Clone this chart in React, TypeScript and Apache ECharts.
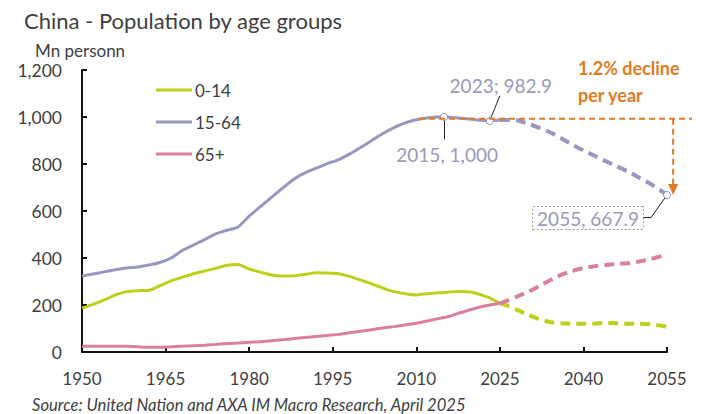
import React, { useEffect, useRef } from "react";
import * as echarts from "echarts";

const histYears = [1950, 1952, 1954, 1956, 1958, 1960, 1962, 1964, 1966, 1968, 1970, 1972, 1974, 1976, 1978, 1980, 1982, 1984, 1986, 1988, 1990, 1992, 1994, 1996, 1998, 2000, 2002, 2004, 2006, 2008, 2010, 2012, 2014, 2015, 2016, 2018, 2020, 2022, 2023, 2024, 2025];
const hist014 = [187, 203, 222, 243, 257, 261, 262, 282, 303, 318, 333, 345, 356, 369, 372, 353, 340, 328, 323, 324, 330, 337, 336, 333, 322, 306, 290, 272, 257, 248, 243, 248, 252, 253, 255, 257, 254, 240, 232, 220, 207];
const hist1564 = [323, 332, 341, 350, 357, 362, 370, 381, 400, 432, 455, 478, 503, 518, 532, 578, 618, 658, 697, 735, 762, 782, 802, 818, 842, 870, 900, 930, 955, 975, 988, 996, 1000, 1000, 999, 995, 990, 985, 982.9, 985, 987];
const hist65 = [25, 25, 25, 25, 24, 22, 20, 20, 22, 25, 27, 29, 32, 36, 38, 41, 44, 48, 52, 57, 62, 66, 70, 75, 82, 88, 95, 102, 108, 115, 122, 132, 142, 147, 152, 168, 182, 195, 199, 203, 207];

const projYears = [2025, 2026, 2028, 2030, 2032, 2034, 2036, 2038, 2040, 2042, 2044, 2046, 2048, 2050, 2052, 2054, 2055];
const proj014 = [207, 200, 180, 160, 140, 127, 122, 120, 120, 121, 124, 122, 120, 120, 118, 112, 108];
const proj1564 = [987, 987, 986, 972, 955, 935, 910, 882, 858, 835, 812, 790, 768, 742, 716, 685, 667.9];
const proj65 = [207, 215, 235, 255, 280, 305, 328, 345, 357, 365, 370, 375, 378, 385, 395, 408, 413];

const groups = ["0-14", "15-64", "65+"];
const xTicks = [1950, 1965, 1980, 1995, 2010, 2025, 2040, 2055];
const yTicks = [0, 200, 400, 600, 800, 1000, 1200];

const C014 = "#bdd01c";
const C1564 = "#9897c0";
const C65 = "#d9809f";
const ORANGE = "#e07b24";
const NOTE = "#9a99b9";
const FONT = "Lato, 'Noto Sans', sans-serif";

const pairs = (xs: number[], ys: number[]) => xs.map((x, i) => [x, ys[i]]);

export default function App() {
  const ref = useRef<HTMLDivElement>(null);
  useEffect(() => {
    if (!ref.current) return;
    const chart = echarts.init(ref.current, null, { renderer: "svg" });
    const y2015 = hist1564[histYears.indexOf(2015)];
    const y2023 = hist1564[histYears.indexOf(2023)];
    const y2055 = proj1564[projYears.indexOf(2055)];
    const fmt = (v: number) => v.toLocaleString("en-US");
    const solid = (name: string, ys: number[], color: string) => ({
      name,
      type: "line",
      data: pairs(histYears, ys),
      showSymbol: false,
      smooth: 0.2,
      lineStyle: { color, width: 3 },
      itemStyle: { color },
      silent: true,
    });
    const dashed = (name: string, ys: number[], color: string) => ({
      name,
      type: "line",
      data: pairs(projYears, ys),
      showSymbol: false,
      smooth: 0.2,
      lineStyle: { color, width: 4, type: [10, 6] },
      itemStyle: { color },
      silent: true,
    });
    const leader = { color: "#222", width: 1, type: "solid" };
    const option: any = {
      animation: false,
      textStyle: { fontFamily: FONT },
      title: [
        { text: "China - Population by age groups", left: 19, top: 4, textStyle: { fontSize: 22, fontWeight: "normal", color: "#404040", fontFamily: FONT } },
        { text: "Mn personn", left: 30, top: 37, textStyle: { fontSize: 17, fontWeight: "normal", color: "#404040", fontFamily: FONT } },
        { text: "Source: United Nation and AXA IM Macro Research, April 2025", left: 27, top: 391, textStyle: { fontSize: 16.6, fontWeight: "normal", fontStyle: "italic", color: "#404040", fontFamily: FONT } },
      ],
      legend: {
        data: groups.map((g) => ({ name: g, icon: "rect" })),
        orient: "vertical",
        left: 156,
        top: 81,
        itemWidth: 36,
        itemHeight: 3,
        itemGap: 14,
        padding: 0,
        textStyle: { fontSize: 17, color: "#404040", lineHeight: 18, fontFamily: FONT, padding: [0, 0, 0, -2] },
        selectedMode: false,
      },
      grid: { left: 82, right: 35, top: 70, bottom: 62, containLabel: false },
      xAxis: {
        type: "value",
        min: xTicks[0],
        max: xTicks[xTicks.length - 1],
        interval: 15,
        axisLine: { lineStyle: { color: "#111", width: 2 } },
        axisTick: { inside: true, length: 5, lineStyle: { color: "#111", width: 2 } },
        axisLabel: { fontSize: 17, color: "#404040", margin: 18, formatter: (v: number) => String(v) },
        splitLine: { show: false },
      },
      yAxis: {
        type: "value",
        min: yTicks[0],
        max: yTicks[yTicks.length - 1],
        interval: 200,
        axisLine: { show: true, lineStyle: { color: "#111", width: 2 } },
        axisTick: { show: true, inside: true, length: 5, lineStyle: { color: "#111", width: 2 } },
        axisLabel: { fontSize: 17.5, color: "#404040", margin: 20, formatter: (v: number) => fmt(v) },
        splitLine: { show: false },
      },
      series: [
        solid(groups[0], hist014, C014),
        solid(groups[1], hist1564, C1564),
        solid(groups[2], hist65, C65),
        dashed("0-14 projection", proj014, C014),
        dashed("65+ projection", proj65, C65),
        {
          ...dashed("15-64 projection", proj1564, C1564),
          markLine: {
            silent: true,
            symbol: ["none", "none"],
            label: { show: false },
            data: [
              [{ coord: [2015, 995], lineStyle: leader }, { coord: [2015, 905] }],
              [{ coord: [2023.2, 986], lineStyle: leader }, { coord: [2025, 1090] }],
              [{ coord: [2055, y2055], lineStyle: leader }, { coord: [2052.2, 575] }],
              [{ coord: [2052.2, 575], lineStyle: leader }, { coord: [2050.6, 575] }],
            ],
          },
          markPoint: {
            silent: true,
            symbol: "circle",
            symbolSize: 7,
            itemStyle: { color: "#fff", borderColor: "#8f8fb5", borderWidth: 1 },
            label: { show: true, position: "inside", color: NOTE, fontSize: 19, fontFamily: FONT },
            data: [
              { coord: [2015, y2015], label: { formatter: `2015, ${fmt(y2015)}`, offset: [3, 37] } },
              { coord: [2023.2, y2023], label: { formatter: `2023; ${y2023}`, offset: [11, -36] } },
              {
                coord: [2055, y2055],
                label: {
                  formatter: `2055, ${y2055}`,
                  offset: [-79, 23],
                  borderColor: "#999",
                  borderWidth: 1,
                  borderType: [2, 2],
                  padding: [2, 4, 1, 4],
                  backgroundColor: "#fff",
                },
              },
            ],
          },
        },
      ],
      graphic: [
        {
          id: "declineText",
          type: "text",
          left: 578,
          top: 54,
          style: {
            text: "1.2% decline\nper year",
            fill: ORANGE,
            font: `bold 18px ${FONT}`,
            lineHeight: 27,
          },
          silent: true,
        },
      ],
    };
    chart.setOption(option);

    // decline arrow, positioned through the chart's own scales
    const px = (x: number, y: number) => chart.convertToPixel({ xAxisIndex: 0, yAxisIndex: 0 }, [x, y]) as number[];
    const hStart = px(2010.5, 993);
    const hEnd = px(2059.5, 993);
    const vTop = px(2056.1, 993);
    const vTip = px(2056.1, y2055);
    const dash = { stroke: ORANGE, lineWidth: 2, lineDash: [6, 4] };
    chart.setOption({
      graphic: [
        {
          id: "declineH",
          type: "line",
          z: 10,
          silent: true,
          shape: { x1: hStart[0], y1: hStart[1], x2: hEnd[0], y2: hEnd[1] },
          style: dash,
        },
        {
          id: "declineV",
          type: "line",
          z: 10,
          silent: true,
          shape: { x1: vTop[0], y1: vTop[1], x2: vTip[0], y2: vTip[1] - 9 },
          style: dash,
        },
        {
          id: "declineHead",
          type: "polygon",
          z: 10,
          silent: true,
          shape: {
            points: [
              [vTip[0] - 5, vTip[1] - 11],
              [vTip[0] + 5, vTip[1] - 11],
              [vTip[0], vTip[1]],
            ],
          },
          style: { fill: ORANGE },
        },
      ],
    });
    return () => chart.dispose();
  }, []);
  return <div ref={ref} style={{ width: 702, height: 414, position: "absolute", left: 0, top: 0 }} />;
}
